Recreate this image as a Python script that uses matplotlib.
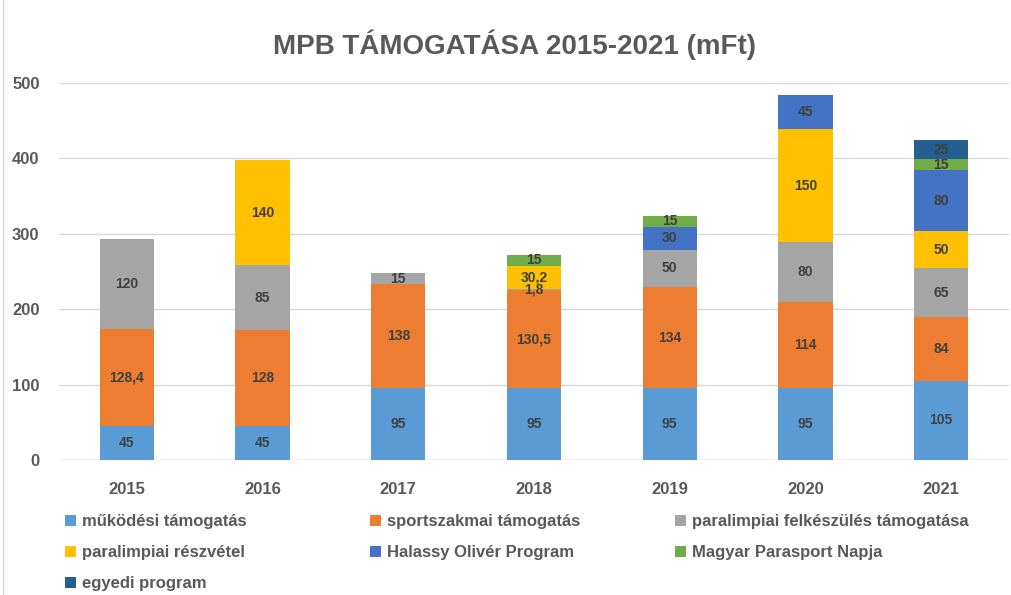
import matplotlib.pyplot as plt
import numpy as np
from matplotlib.patches import Patch
from matplotlib.lines import Line2D

years = ["2015", "2016", "2017", "2018", "2019", "2020", "2021"]
mukodesi = [45, 45, 95, 95, 95, 95, 105]
sportszakmai = [128.4, 128, 138, 130.5, 134, 114, 84]
felkeszules = [120, 85, 15, 1.8, 50, 80, 65]
reszvetel = [0, 140, 0, 30.2, 0, 150, 50]
halassy = [0, 0, 0, 0, 30, 45, 80]
parasport_napja = [0, 0, 0, 15, 15, 0, 15]
egyedi = [0, 0, 0, 0, 0, 0, 25]

series = [
    ("működési támogatás", mukodesi, "#5B9BD5"),
    ("sportszakmai támogatás", sportszakmai, "#ED7D31"),
    ("paralimpiai felkészülés támogatása", felkeszules, "#A5A5A5"),
    ("paralimpiai részvétel", reszvetel, "#FFC000"),
    ("Halassy Olivér Program", halassy, "#4472C4"),
    ("Magyar Parasport Napja", parasport_napja, "#70AD47"),
    ("egyedi program", egyedi, "#255E91"),
]

fonts = ["Liberation Sans Narrow", "Liberation Sans", "DejaVu Sans"]
plt.rcParams["font.family"] = fonts
txt = "#595959"

fig = plt.figure(figsize=(10.12, 5.95), dpi=100)
ax = fig.add_axes([59 / 1012, 1 - 460 / 595, 950 / 1012, 377 / 595])

x = np.arange(len(years))
bottom = np.zeros(len(years))
handles = {}
for name, vals, col in series:
    vals = np.array(vals, dtype=float)
    ax.bar(x, vals, 0.40, bottom=bottom, color=col, zorder=3)
    for xi, b, v in zip(x, bottom, vals):
        if v > 0:
            lab = f"{v:g}".replace(".", ",")
            ax.text(xi, b + v / 2, lab, ha="center", va="center",
                    fontsize=10, fontweight="bold", color="#404040", zorder=4)
    bottom += vals
    handles[name] = Patch(facecolor=col)

ax.set_xlim(-0.5, len(years) - 0.5)
ax.set_ylim(0, 500)
ax.set_yticks(range(0, 501, 100))
ax.set_xticks(x)
ax.set_xticklabels(years)
ax.yaxis.grid(True, color="#D9D9D9", linewidth=1, zorder=0)
for s in ax.spines.values():
    s.set_visible(False)
ax.axhline(0, color="#D9D9D9", linewidth=1, zorder=2)
ax.tick_params(length=0, labelsize=12, labelcolor=txt)
ax.tick_params(axis="y", pad=14)
ax.tick_params(axis="x", pad=16)
for lbl in ax.get_xticklabels() + ax.get_yticklabels():
    lbl.set_fontweight("bold")

fig.text(0.508, 1 - 45 / 595, "MPB TÁMOGATÁSA 2015-2021 (mFt)", ha="center",
         va="center", fontsize=20, fontweight="bold", color=txt)

columns = [
    (["működési támogatás", "paralimpiai részvétel", "egyedi program"], 65),
    (["sportszakmai támogatás", "Halassy Olivér Program"], 370),
    (["paralimpiai felkészülés támogatása", "Magyar Parasport Napja"], 675),
]
for names, px in columns:
    leg = fig.legend([handles[n] for n in names], names, loc="upper left",
                     bbox_to_anchor=(px / 1012, 1 - 514 / 595), frameon=False,
                     handlelength=0.65, handleheight=0.65, handletextpad=0.4,
                     labelspacing=0.97, borderaxespad=0, borderpad=0,
                     prop={"size": 12, "weight": "bold"})
    for t in leg.get_texts():
        t.set_color(txt)

fig.add_artist(Line2D([3 / 1012, 3 / 1012], [0, 1], color="#D9D9D9",
                      linewidth=1, transform=fig.transFigure))

fig.savefig("out.png", dpi=100)
plt.close(fig)
